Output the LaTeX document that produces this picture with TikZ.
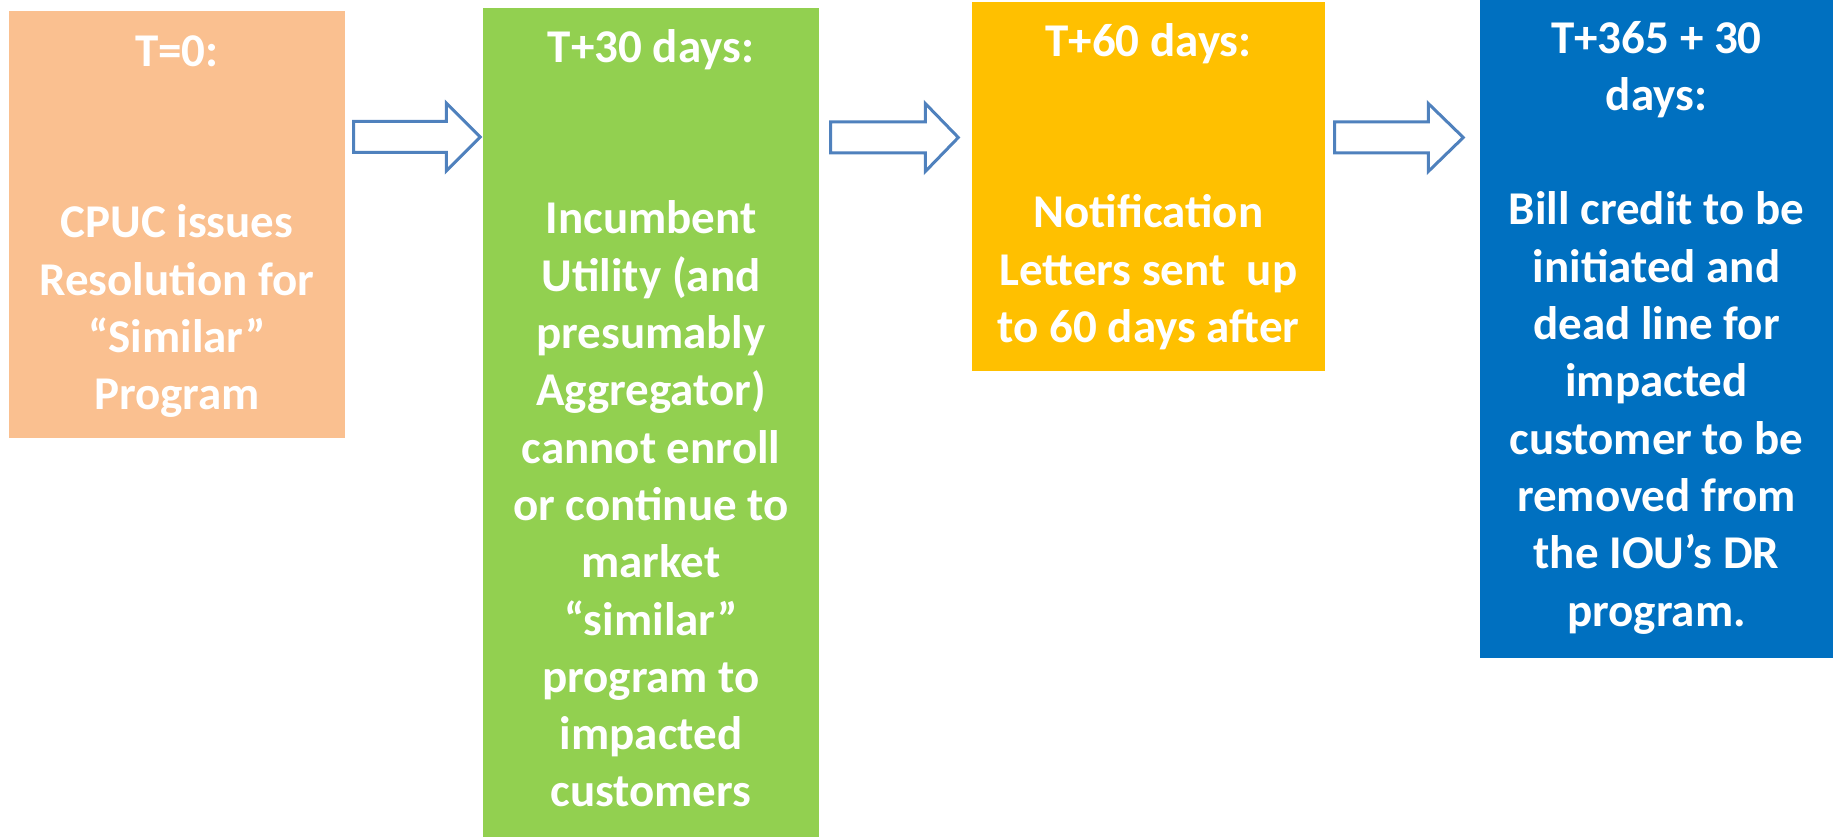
\documentclass[tikz,border=0pt]{standalone}
\usepackage{fontspec}
\setmainfont{Carlito}
\usetikzlibrary{calc}

\definecolor{peach}{HTML}{FAC090}
\definecolor{leaf}{HTML}{92D050}
\definecolor{amber}{HTML}{FFC000}
\definecolor{ocean}{HTML}{0070C0}
\definecolor{arrowblue}{HTML}{4F81BD}

\tikzset{
  stage/.style={rectangle, inner sep=0pt, draw=none},
  stagetext/.style={anchor=north, inner sep=0pt, align=center, text=white,
    font=\fontsize{47pt}{57.3pt}\selectfont\bfseries},
  flow/.style={draw=arrowblue, line width=3pt, fill=white, line join=miter},
}

% strut fixing the height of the first line of each stage text
\newcommand\firstline{\rule{0pt}{40pt}}

% hollow block arrow between two stages:
% #1 from, #2 to, #3 centre height, #4 start gap, #5 end gap, #6 head length
\newcommand\blockarrow[6]{%
  \draw[flow] let \p1=(#1.east), \p2=(#2.west) in
    (\x1+#4, #3+15.5pt) -- (\x2-#5-#6, #3+15.5pt) -- (\x2-#5-#6, #3+34pt)
    -- (\x2-#5, #3) -- (\x2-#5-#6, #3-34pt) -- (\x2-#5-#6, #3-15.5pt)
    -- (\x1+#4, #3-15.5pt) -- cycle;
}

\begin{document}
\begin{tikzpicture}[x=1pt,y=-1pt]
\useasboundingbox (0,0) rectangle (1833,837);

% stage boxes
\node[stage, fill=peach, minimum width=336pt, minimum height=427pt] (b1) at (177,224.5) {};
\node[stage, fill=leaf,  minimum width=336pt, minimum height=829pt] (b2) at (651,422.5) {};
\node[stage, fill=amber, minimum width=353pt, minimum height=369pt] (b3) at (1148.5,186.5) {};
\node[stage, fill=ocean, minimum width=353pt, minimum height=658pt] (b4) at (1656.5,329) {};

% stage texts
\node[stagetext] (t1) at ([yshift=-15pt]b1.north)
  {\firstline T=0:\\[114.6pt] CPUC issues\\ Resolution for\\ “Similar”\\ Program};
\node[stagetext] (t2) at ([yshift=-14pt]b2.north)
  {\firstline T+30 days:\\[114.6pt] Incumbent\\ Utility (and\\ presumably\\ Aggregator)\\
   cannot enroll\\ or continue to\\ market\\ “similar”\\ program to\\ impacted\\ customers};
\node[stagetext] (t3) at ([yshift=-14pt]b3.north)
  {\firstline T+60 days:\\[114.6pt] Notification\\ Letters sent~ up\\ to 60 days after};
\node[stagetext] (t4) at ([yshift=-13pt]b4.north)
  {\firstline T+365 + 30\\ days:\\[57.3pt] Bill credit to be\\ initiated and\\ dead line for\\
   impacted\\ customer to be\\ removed from\\ the IOU’s DR\\ program.};

% arrows between stages
\blockarrow{b1}{b2}{-137pt}{8.5pt}{2.5pt}{34pt}
\blockarrow{b2}{b3}{-137.5pt}{11.5pt}{13.5pt}{33pt}
\blockarrow{b3}{b4}{-137.5pt}{9.5pt}{16.5pt}{35pt}
\end{tikzpicture}
\end{document}
